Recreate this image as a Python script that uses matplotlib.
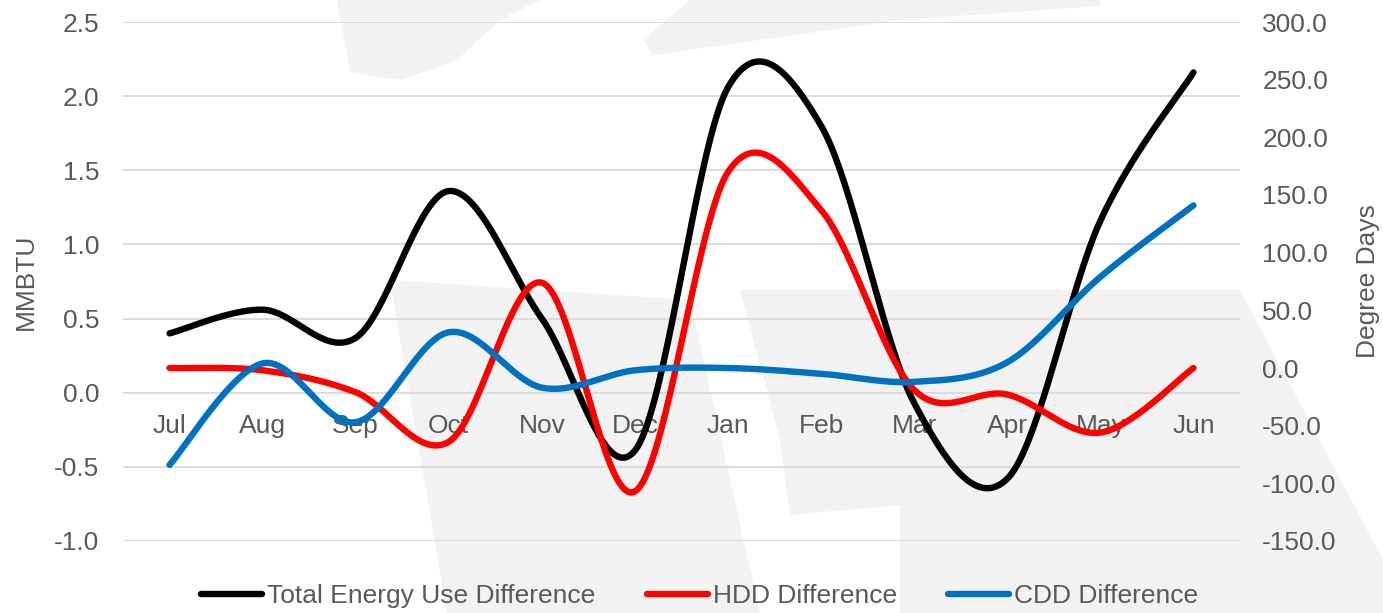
import numpy as np
import matplotlib
matplotlib.use("Agg")
import matplotlib.pyplot as plt
from matplotlib.patches import Polygon
from matplotlib.ticker import FormatStrFormatter, MultipleLocator

months = ["Jul", "Aug", "Sep", "Oct", "Nov", "Dec", "Jan", "Feb", "Mar", "Apr", "May", "Jun"]
total_energy = [0.40, 0.56, 0.37, 1.36, 0.50, -0.39, 2.06, 1.80, -0.07, -0.58, 1.16, 2.16]
hdd_diff = [0, -2, -21, -64, 74, -107, 170, 137, -19, -23, -56, 0]
cdd_diff = [-84, 4, -47, 31, -17, -2, 0, -5, -12, 5, 79, 141]

W, H = 1383, 613
plt.rcParams["font.family"] = ["Liberation Sans", "DejaVu Sans"]
TEXT = "#595959"
GRID = "#d9d9d9"
MARK = "#f2f2f2"
FS = 19


def smooth_curve(values, steps=40):
    """Cardinal (Catmull-Rom) Bezier smoothing through every point."""
    y = np.asarray(values, dtype=float)
    x = np.arange(len(y), dtype=float)
    pts = np.column_stack([x, y])
    n = len(pts)
    out = []
    t = np.linspace(0, 1, steps)[:, None]
    for i in range(n - 1):
        p0 = pts[i - 1] if i > 0 else pts[i]
        p1 = pts[i]
        p2 = pts[i + 1]
        p3 = pts[i + 2] if i + 2 < n else pts[i + 1]
        c1 = p1 + (p2 - p0) / 6.0
        c2 = p2 - (p3 - p1) / 6.0
        seg = ((1 - t) ** 3) * p1 + 3 * ((1 - t) ** 2) * t * c1 + 3 * (1 - t) * t ** 2 * c2 + t ** 3 * p2
        out.append(seg if i == 0 else seg[1:])
    seg = np.vstack(out)
    return seg[:, 0], seg[:, 1]


fig = plt.figure(figsize=(W / 100, H / 100), dpi=100)
fig.patch.set_facecolor("white")

# faint background logo shapes (pixel outlines, top-left origin)
logo_shapes = [
    [(337, 0), (540, 0), (500, 20), (457, 60), (400, 80), (350, 72)],
    [(690, 0), (1100, 0), (1100, 6), (900, 20), (653, 55), (643, 40)],
    [(390, 280), (690, 300), (760, 613), (447, 613)],
    [(740, 290), (900, 290), (900, 505), (790, 515), (780, 440)],
    [(900, 290), (1240, 290), (1383, 560), (1383, 613), (900, 613)],
]
for shape in logo_shapes:
    pts = [(x / W, 1 - y / H) for x, y in shape]
    fig.patches.append(Polygon(pts, closed=True, transform=fig.transFigure,
                               facecolor=MARK, edgecolor="none", zorder=-5))

ax = fig.add_axes([123 / W, 1 - 541 / H, (1240 - 123) / W, (541 - 22) / H])
ax.set_facecolor("none")
ax2 = ax.twinx()
ax2.set_facecolor("none")

LW = 4.6
xs, ys = smooth_curve(total_energy)
l1, = ax.plot(xs, ys, color="black", lw=LW, solid_capstyle="round", solid_joinstyle="round",
              label="Total Energy Use Difference")
xs, ys = smooth_curve(hdd_diff)
l2, = ax2.plot(xs, ys, color="#FF0000", lw=LW, solid_capstyle="round", solid_joinstyle="round",
               label="HDD Difference")
xs, ys = smooth_curve(cdd_diff)
l3, = ax2.plot(xs, ys, color="#0070C0", lw=LW, solid_capstyle="round", solid_joinstyle="round",
               label="CDD Difference")

ax.set_xlim(-0.5, len(months) - 0.5)
ax.set_ylim(-1.0, 2.5)
ax.yaxis.set_major_locator(MultipleLocator(0.5))
ax.yaxis.set_major_formatter(FormatStrFormatter("%.1f"))
ax.grid(axis="y", color=GRID, lw=1.3)
ax.set_axisbelow(True)

ax2.set_ylim(-150, 300)
ax2.yaxis.set_major_locator(MultipleLocator(50))
ax2.yaxis.set_major_formatter(FormatStrFormatter("%.1f"))

# category labels sit along the zero line of the left axis
ax.spines["bottom"].set_position(("data", 0))
ax.set_xticks(range(len(months)))
ax.set_xticklabels(months)

for a in (ax, ax2):
    for s in a.spines.values():
        s.set_visible(False)

ax.tick_params(axis="x", length=0, pad=15, labelsize=FS, labelcolor=TEXT)
ax.tick_params(axis="y", length=0, pad=17, labelsize=FS, labelcolor=TEXT)
ax2.tick_params(axis="y", length=0, pad=16, labelsize=FS, labelcolor=TEXT)

ax.set_ylabel("MMBTU", fontsize=FS, color=TEXT, labelpad=12)
ax2.set_ylabel("Degree Days", fontsize=FS, color=TEXT, rotation=90, labelpad=14)

fig.legend(handles=[l1, l2, l3], loc="center", bbox_to_anchor=(0.506, 0.027), ncol=3,
           frameon=False, fontsize=FS, handlelength=2.3, handletextpad=0.2,
           columnspacing=1.95, labelcolor=TEXT)

fig.savefig("out.png", dpi=100)
